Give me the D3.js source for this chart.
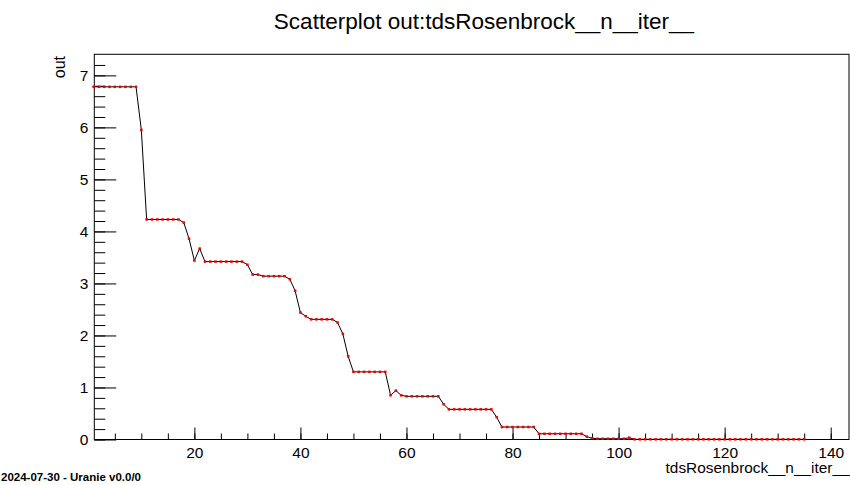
<!DOCTYPE html>
<html>
<head>
<meta charset="utf-8">
<script src="https://cdn.jsdelivr.net/npm/d3@7"></script>
<style>
  html, body { margin: 0; padding: 0; background: #fff; }
  svg { display: block; font-family: "Liberation Sans", Arial, Helvetica, sans-serif; }
</style>
</head>
<body>
<svg id="chart" width="850" height="485"></svg>
<script>
// Iteration index of the optimiser
const iterations = d3.range(1, 136);

// Objective value "out" reached at each iteration
const outValues = [
  6.78, 6.78, 6.78, 6.78, 6.78, 6.78, 6.78, 6.78, 6.78, 5.95,
  4.23, 4.23, 4.23, 4.23, 4.23, 4.23, 4.23, 4.17, 3.86, 3.44,
  3.67, 3.42, 3.42, 3.42, 3.42, 3.42, 3.42, 3.42, 3.42, 3.36,
  3.17, 3.17, 3.14, 3.14, 3.14, 3.14, 3.14, 3.08, 2.86, 2.44,
  2.37, 2.31, 2.31, 2.31, 2.31, 2.31, 2.25, 2.03, 1.60, 1.30,
  1.30, 1.30, 1.30, 1.30, 1.30, 1.30, 0.85, 0.94, 0.85, 0.83,
  0.83, 0.83, 0.83, 0.83, 0.83, 0.83, 0.68, 0.58, 0.58, 0.58,
  0.58, 0.58, 0.58, 0.58, 0.58, 0.58, 0.43, 0.24, 0.24, 0.24,
  0.24, 0.24, 0.24, 0.24, 0.11, 0.11, 0.11, 0.11, 0.11, 0.11,
  0.11, 0.11, 0.11, 0.055, 0.025, 0.015, 0.015, 0.015, 0.015, 0.015,
  0.015, 0.035, 0.004, 0.004, 0.004, 0.004, 0.004, 0.004, 0.004, 0.004,
  0.004, 0.004, 0.004, 0.004, 0.004, 0.004, 0.004, 0.004, 0.004, 0.004,
  0.004, 0.004, 0.004, 0.004, 0.004, 0.004, 0.004, 0.004, 0.004, 0.004,
  0.004, 0.004, 0.004, 0.004, 0.004
];

// Axis tick values
const xMajorTicks = [20, 40, 60, 80, 100, 120, 140];
const xMinorTicks = d3.range(5, 144, 5);
const yMajorTicks = [0, 1, 2, 3, 4, 5, 6, 7];
const yMinorTicks = d3.range(0, 37).map(i => +(i * 0.2).toFixed(1));

const titleText = "Scatterplot out:tdsRosenbrock__n__iter__";
const xTitle = "tdsRosenbrock__n__iter__";
const yTitle = "out";
const footerText = "2024-07-30 - Uranie v0.0/0";

const points = iterations.map((it, i) => ({ x: it, y: outValues[i] }));

const svg = d3.select("#chart");
const frame = { left: 94.3, right: 849, top: 54.3, bottom: 439.5 };

const x = d3.scaleLinear().domain([1.13, 143.45]).range([frame.left, frame.right]);
const y = d3.scaleLinear().domain([0, 7.405]).range([frame.bottom, frame.top]);

svg.append("rect").attr("width", 850).attr("height", 485).attr("fill", "#fff");

// Frame
svg.append("rect")
  .attr("x", frame.left).attr("y", frame.top)
  .attr("width", frame.right - frame.left).attr("height", frame.bottom - frame.top)
  .attr("fill", "none").attr("stroke", "#000").attr("stroke-width", 1);

// X axis: minor then major ticks, pointing into the frame
svg.append("g")
  .attr("transform", `translate(0,${frame.bottom})`)
  .call(d3.axisBottom(x).tickValues(xMinorTicks).tickSizeInner(-6).tickSizeOuter(0).tickFormat(""))
  .call(g => g.select(".domain").remove());
const xAxis = svg.append("g")
  .attr("transform", `translate(0,${frame.bottom})`)
  .call(d3.axisBottom(x).tickValues(xMajorTicks).tickSizeInner(-12).tickSizeOuter(0).tickPadding(7).tickFormat(d3.format("d")));
xAxis.select(".domain").remove();
xAxis.selectAll("text").attr("font-size", 15.5).attr("fill", "#000").attr("font-family", null);

// Y axis: minor then major ticks, pointing into the frame
svg.append("g")
  .attr("transform", `translate(${frame.left},0)`)
  .call(d3.axisLeft(y).tickValues(yMinorTicks).tickSizeInner(-11).tickSizeOuter(0).tickFormat(""))
  .call(g => g.select(".domain").remove());
const yAxis = svg.append("g")
  .attr("transform", `translate(${frame.left},0)`)
  .call(d3.axisLeft(y).tickValues(yMajorTicks).tickSizeInner(-22).tickSizeOuter(0).tickPadding(6).tickFormat(d3.format("d")));
yAxis.select(".domain").remove();
yAxis.selectAll("text").attr("font-size", 15.5).attr("fill", "#000").attr("font-family", null);

svg.selectAll(".tick line").attr("stroke", "#000").attr("stroke-width", 1);

// Connecting line
const line = d3.line().x(d => x(d.x)).y(d => y(d.y));
svg.append("path")
  .datum(points)
  .attr("d", line)
  .attr("fill", "none")
  .attr("stroke", "#000")
  .attr("stroke-width", 1);

// Markers
svg.append("g")
  .selectAll("rect")
  .data(points)
  .join("rect")
  .attr("x", d => x(d.x) - 1.25)
  .attr("y", d => y(d.y) - 1.25)
  .attr("width", 2.5)
  .attr("height", 2.5)
  .attr("fill", "#e00");

// Titles
svg.append("text")
  .attr("x", 484).attr("y", 29)
  .attr("text-anchor", "middle")
  .attr("font-size", 22.5)
  .text(titleText);

svg.append("text")
  .attr("x", 849.5).attr("y", 473)
  .attr("text-anchor", "end")
  .attr("font-size", 15.4)
  .text(xTitle);

svg.append("text")
  .attr("transform", "translate(65,56) rotate(-90)")
  .attr("text-anchor", "end")
  .attr("font-size", 16)
  .text(yTitle);

svg.append("text")
  .attr("x", 1).attr("y", 481)
  .attr("font-size", 11.5)
  .attr("font-weight", "bold")
  .text(footerText);
</script>
</body>
</html>
